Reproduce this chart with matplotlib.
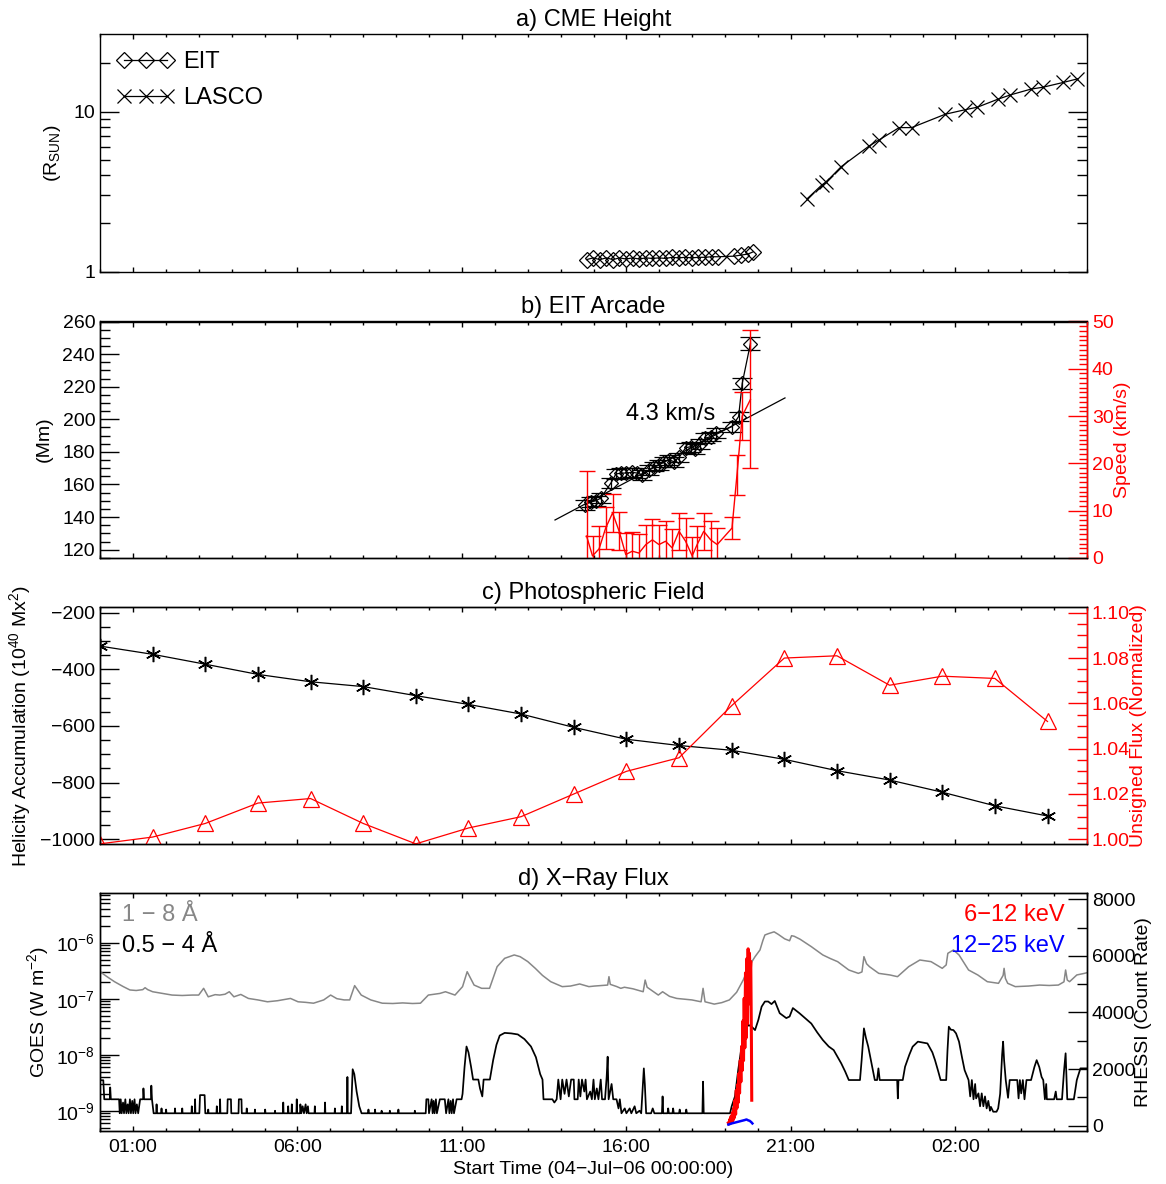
import matplotlib
matplotlib.use('Agg')
import matplotlib.pyplot as plt
import numpy as np
from matplotlib.ticker import (MultipleLocator, FixedLocator, NullFormatter,
                               FuncFormatter, FormatStrFormatter)

plt.rcParams['font.family'] = ['Liberation Sans', 'DejaVu Sans']
plt.rcParams['mathtext.default'] = 'regular'
plt.rcParams['axes.linewidth'] = 1.0

# ---------------- data (time in hours since 04-Jul-06 00:00:00) ----------------
hour_ticks = [1, 6, 11, 16, 21, 26]
hour_labels = ['01:00', '06:00', '11:00', '16:00', '21:00', '02:00']
hour_minor = [0, 2, 3, 4, 5, 7, 8, 9, 10, 12, 13, 14, 15, 17, 18, 19, 20,
              22, 23, 24, 25, 27, 28, 29, 30]

# a) CME height (R_sun)
eit_t = [14.79, 14.99, 15.19, 15.39, 15.59, 15.79, 15.99, 16.19, 16.39, 16.59,
         16.79, 16.99, 17.19, 17.39, 17.59, 17.79, 17.99, 18.19, 18.39, 18.59,
         18.79, 19.26, 19.49, 19.70, 19.85]
eit_r = [1.19, 1.22, 1.19, 1.22, 1.19, 1.22, 1.20, 1.22, 1.20, 1.22,
         1.21, 1.22, 1.21, 1.23, 1.22, 1.23, 1.22, 1.23, 1.23, 1.24,
         1.24, 1.25, 1.27, 1.29, 1.33]
lasco_t = [21.49, 21.94, 22.08, 22.53, 23.38, 23.68, 24.29, 24.67, 25.69,
           26.28, 26.67, 27.29, 27.67, 28.29, 28.67, 29.28, 29.71]
lasco_r = [2.85, 3.48, 3.65, 4.53, 6.10, 6.65, 7.94, 7.94, 9.62,
           10.25, 10.65, 11.94, 12.70, 13.80, 14.20, 15.20, 16.00]

# b) EIT arcade height (Mm) and speed (km/s)
arc_t = [14.75, 14.92, 15.07, 15.22, 15.53, 15.68, 15.83, 15.98, 16.18, 16.33,
         16.48, 16.69, 16.84, 16.99, 17.14, 17.29, 17.44, 17.60, 17.80, 17.95,
         18.10, 18.25, 18.40, 18.56, 18.71, 19.21, 19.41, 19.52, 19.77]
arc_h = [147.6, 149.3, 150.0, 151.6, 160.9, 166.4, 167.0, 167.0, 167.4, 167.0,
         166.0, 169.0, 171.0, 172.0, 174.0, 175.2, 174.0, 176.6, 182.5, 183.2,
         182.0, 185.0, 188.4, 189.4, 191.4, 195.5, 201.7, 222.0, 246.5]
arc_err = [3.0] * 27 + [3.5, 4.0]
fit_t = [13.83, 20.82]
fit_h = [138.2, 213.1]
spd_t = [14.79, 14.97, 15.17, 15.37, 15.58, 15.78, 15.98, 16.18, 16.38, 16.59,
         16.79, 16.99, 17.19, 17.39, 17.60, 17.80, 18.00, 18.15, 18.35, 18.56,
         18.76, 19.21, 19.36, 19.52, 19.77]
spd_v = [4.6, 0.4, 1.9, 6.3, 9.5, 5.6, 0.7, 1.4, 1.0, 2.8,
         3.8, 2.8, 3.5, 2.1, 5.6, 3.5, 0.4, 2.8, 5.6, 3.8,
         2.8, 6.3, 17.5, 30.0, 33.5]
spd_err = [13.7, 4.2, 4.8, 4.5, 4.0, 4.0, 4.5, 4.0, 4.0, 4.2,
           4.5, 4.2, 4.2, 4.0, 3.9, 4.9, 4.0, 4.0, 3.9, 4.0,
           3.5, 2.3, 4.2, 5.0, 14.6]

# c) photospheric field
mdi_t = [0.0, 1.6, 3.2, 4.8, 6.4, 8.0, 9.6, 11.2, 12.8, 14.4,
         16.0, 17.6, 19.2, 20.8, 22.4, 24.0, 25.6, 27.2, 28.8]
helicity = [-318, -347, -382, -418, -444, -461, -493, -524, -558, -605,
            -647, -669, -686, -718, -758, -791, -834, -882, -918]
uflux = [0.998, 1.001, 1.007, 1.016, 1.018, 1.007, 0.998, 1.005, 1.010, 1.020,
         1.030, 1.036, 1.059, 1.080, 1.081, 1.068, 1.072, 1.071, 1.052]

# d) GOES 1-8 A (units 1e-9 W m^-2)
goes_long_t = [0.00, 0.20, 0.44, 0.70, 0.91, 1.10, 1.30, 1.37, 1.45, 1.60,
               1.90, 2.19, 2.50, 2.80, 3.00, 3.15, 3.29, 3.50, 3.64, 3.80,
               3.93, 4.07, 4.28, 4.51, 4.80, 5.09, 5.40, 5.79, 6.02, 6.25,
               6.49, 6.80, 7.01, 7.20, 7.42, 7.59, 7.74, 7.94, 8.23, 8.58,
               8.90, 9.20, 9.50, 9.74, 9.98, 10.15, 10.33, 10.50, 10.79, 11.02,
               11.16, 11.37, 11.60, 11.84, 12.07, 12.30, 12.59, 12.77, 13.00, 13.23,
               13.45, 13.70, 14.05, 14.30, 14.58, 14.86, 15.03, 15.25, 15.43, 15.47,
               15.51, 15.70, 15.83, 15.94, 16.20, 16.51, 16.57, 16.63, 16.97, 17.10,
               17.31, 17.53, 17.75, 17.99, 18.27, 18.33, 18.39, 18.67, 18.90, 19.13,
               19.35, 19.55, 19.75, 19.91, 20.06, 20.15, 20.21, 20.32, 20.49, 20.62,
               20.81, 20.96, 21.02, 21.10, 21.28, 21.62, 21.97, 22.20, 22.42, 22.76,
               23.05, 23.16, 23.22, 23.30, 23.39, 23.67, 24.01, 24.24, 24.58, 24.92,
               25.26, 25.60, 25.72, 25.77, 25.94, 26.11, 26.40, 26.68, 26.97, 27.31,
               27.45, 27.48, 27.52, 27.59, 27.82, 28.22, 28.56, 28.85, 29.13, 29.30,
               29.35, 29.40, 29.47, 29.69, 29.92, 30.00]
goes_long = [303, 250, 201, 165, 143, 140, 145, 157, 145, 133,
             124, 116, 114, 116, 116, 153, 108, 118, 116, 120,
             133, 108, 119, 101, 95, 88, 92, 101, 88, 86,
             83, 95, 116, 100, 95, 95, 171, 116, 95, 83,
             82, 84, 82, 83, 116, 120, 124, 133, 116, 164,
             303, 175, 153, 153, 372, 525, 603, 562, 460, 348,
             260, 201, 164, 168, 183, 164, 168, 172, 175, 247,
             180, 165, 153, 160, 150, 133, 215, 160, 116, 133,
             110, 101, 98, 95, 88, 153, 88, 80, 85, 95,
             130, 215, 400, 562, 740, 1100, 1370, 1450, 1560, 1400,
             1170, 1080, 1330, 1300, 1150, 849, 603, 520, 458, 325,
             283, 300, 562, 420, 372, 283, 265, 247, 372, 490,
             458, 348, 400, 645, 740, 603, 325, 265, 201, 188,
             260, 348, 230, 188, 164, 168, 175, 172, 175, 200,
             325, 215, 201, 265, 283, 291]

# d) GOES 0.5-4 A (units 1e-9 W m^-2)
goes_short_t = [0.00, 0.10, 0.13, 0.30, 0.31, 0.33, 0.58, 0.60, 0.63, 0.66,
                0.70, 0.73, 0.77, 0.80, 0.84, 0.87, 0.91, 0.94, 0.98, 1.01,
                1.05, 1.08, 1.12, 1.16, 1.22, 1.31, 1.32, 1.34, 1.55, 1.56,
                1.58, 1.63, 1.71, 1.72, 1.73, 1.86, 1.87, 1.88, 2.00, 2.01,
                2.02, 2.27, 2.28, 2.29, 2.49, 2.50, 2.51, 2.78, 2.79, 2.80,
                2.88, 2.89, 2.90, 3.02, 3.04, 3.18, 3.20, 3.28, 3.29, 3.30,
                3.54, 3.55, 3.56, 3.64, 3.65, 3.66, 3.87, 3.88, 3.98, 3.99,
                4.21, 4.22, 4.30, 4.31, 4.45, 4.46, 4.47, 4.70, 4.71, 4.72,
                5.01, 5.02, 5.03, 5.31, 5.32, 5.33, 5.56, 5.57, 5.58, 5.71,
                5.72, 5.73, 5.82, 5.83, 5.84, 5.97, 5.98, 5.99, 6.08, 6.09,
                6.12, 6.16, 6.20, 6.25, 6.28, 6.32, 6.34, 6.52, 6.53, 6.54,
                6.83, 6.84, 6.85, 7.13, 7.14, 7.15, 7.34, 7.35, 7.36, 7.51,
                7.52, 7.53, 7.63, 7.68, 7.73, 7.80, 7.88, 7.95, 8.15, 8.16,
                8.17, 8.35, 8.36, 8.37, 8.55, 8.56, 8.57, 8.80, 8.81, 8.82,
                9.06, 9.07, 9.08, 9.56, 9.57, 9.58, 9.90, 9.92, 9.98, 10.00,
                10.08, 10.11, 10.14, 10.17, 10.21, 10.24, 10.33, 10.48, 10.52, 10.59,
                10.62, 10.66, 10.69, 10.73, 10.76, 10.80, 10.84, 10.99, 11.02, 11.08,
                11.14, 11.20, 11.28, 11.34, 11.50, 11.55, 11.62, 11.66, 11.85, 11.95,
                12.05, 12.15, 12.30, 12.50, 12.70, 12.90, 13.10, 13.25, 13.38, 13.45,
                13.48, 13.75, 13.81, 13.88, 13.93, 14.00, 14.05, 14.12, 14.18, 14.25,
                14.32, 14.40, 14.42, 14.52, 14.55, 14.60, 14.65, 14.72, 14.76, 14.80,
                14.90, 14.95, 15.00, 15.04, 15.10, 15.15, 15.22, 15.26, 15.35, 15.40,
                15.43, 15.46, 15.55, 15.60, 15.70, 15.76, 15.80, 15.85, 15.95, 16.00,
                16.10, 16.15, 16.25, 16.30, 16.40, 16.45, 16.50, 16.53, 16.56, 16.60,
                16.75, 16.80, 16.85, 17.08, 17.10, 17.12, 17.25, 17.27, 17.29, 17.40,
                17.42, 17.44, 17.60, 17.62, 17.64, 17.80, 17.82, 17.84, 18.31, 18.33,
                18.35, 19.15, 19.20, 19.30, 19.40, 19.50, 19.60, 19.71, 19.81, 19.91,
                20.01, 20.11, 20.21, 20.31, 20.41, 20.51, 20.66, 20.86, 20.96, 21.06,
                21.26, 21.62, 21.80, 21.97, 22.15, 22.30, 22.53, 22.65, 22.76, 23.10,
                23.15, 23.22, 23.28, 23.35, 23.45, 23.55, 23.62, 23.66, 23.70, 24.23,
                24.25, 24.27, 24.40, 24.47, 24.60, 24.70, 24.86, 25.00, 25.15, 25.30,
                25.38, 25.48, 25.55, 25.72, 25.76, 25.80, 25.86, 25.94, 26.02, 26.11,
                26.20, 26.28, 26.40, 26.45, 26.50, 26.55, 26.60, 26.63, 26.70, 26.75,
                26.80, 26.85, 26.90, 26.95, 27.00, 27.05, 27.08, 27.15, 27.25, 27.30,
                27.36, 27.42, 27.45, 27.48, 27.53, 27.60, 27.65, 27.88, 27.92, 27.96,
                28.00, 28.05, 28.10, 28.16, 28.30, 28.40, 28.47, 28.55, 28.62, 28.67,
                28.72, 28.76, 28.78, 29.00, 29.05, 29.08, 29.24, 29.30, 29.35, 29.40,
                29.60, 29.69, 29.80, 30.00]
goes_short = [3.5, 3.5, 1.6, 1.6, 2.6, 1.6, 1.6, 0.9, 1.6, 0.9,
              1.4, 0.9, 1.6, 0.9, 1.3, 0.9, 1.6, 0.9, 1.5, 0.9,
              1.6, 0.9, 1.3, 0.9, 1.6, 1.6, 2.5, 1.6, 1.6, 2.8,
              1.6, 0.9, 0.9, 1.3, 0.9, 0.9, 1.1, 0.9, 0.9, 1.05,
              0.9, 0.9, 1.1, 0.9, 0.9, 1.1, 0.9, 0.9, 1.2, 0.9,
              0.9, 1.6, 0.9, 0.9, 1.9, 1.9, 0.9, 0.9, 1.05, 0.9,
              0.9, 1.2, 0.9, 0.9, 1.6, 0.9, 0.9, 1.6, 1.6, 0.9,
              0.9, 1.6, 1.6, 0.9, 0.9, 1.1, 0.9, 0.9, 1.05, 0.9,
              0.9, 1.05, 0.9, 0.9, 1.0, 0.9, 0.9, 1.4, 0.9, 0.9,
              1.2, 0.9, 0.9, 1.3, 0.9, 0.9, 1.6, 0.9, 0.9, 1.3,
              0.9, 1.2, 0.9, 1.3, 0.9, 1.2, 0.9, 0.9, 1.2, 0.9,
              0.9, 1.4, 0.9, 0.9, 1.1, 0.9, 0.9, 1.2, 0.9, 0.9,
              4.0, 0.9, 0.9, 5.5, 4.5, 2.2, 1.2, 0.9, 0.9, 1.05,
              0.9, 0.9, 1.05, 0.9, 0.9, 1.0, 0.9, 0.9, 1.0, 0.9,
              0.9, 1.05, 0.9, 0.9, 1.0, 0.9, 0.9, 1.6, 1.6, 0.9,
              1.6, 0.9, 1.5, 0.9, 1.6, 0.9, 1.6, 1.6, 0.9, 1.6,
              0.9, 1.5, 0.9, 1.6, 0.9, 1.2, 1.6, 1.6, 2.0, 6.0,
              14.0, 11.0, 6.0, 3.6, 3.6, 2.5, 1.8, 3.6, 3.6, 8.0,
              15.0, 22.0, 24.5, 24.0, 23.0, 19.0, 14.0, 9.0, 4.5, 3.6,
              1.6, 1.6, 1.4, 1.6, 3.6, 1.6, 3.6, 2.0, 3.6, 1.8,
              3.6, 3.6, 1.6, 1.6, 3.6, 1.8, 3.6, 2.2, 3.6, 1.6,
              2.2, 1.6, 3.6, 1.6, 2.5, 1.6, 3.6, 1.6, 1.6, 4.0,
              9.2, 1.6, 3.0, 1.6, 1.6, 1.1, 1.6, 0.9, 1.1, 0.9,
              1.1, 0.9, 1.2, 0.9, 1.0, 0.9, 3.0, 5.7, 3.0, 0.9,
              0.9, 1.1, 0.9, 0.9, 1.8, 0.9, 0.9, 1.1, 0.9, 0.9,
              1.1, 0.9, 0.9, 1.05, 0.9, 0.9, 1.05, 0.9, 0.9, 3.3,
              0.9, 0.9, 1.2, 1.8, 5.4, 13.8, 27.5, 34.0, 31.6, 27.5,
              41.7, 72.0, 89.0, 89.0, 80.0, 91.0, 55.0, 45.0, 48.0, 68.0,
              55.0, 36.0, 25.0, 18.3, 14.0, 12.1, 7.0, 5.0, 3.53, 3.53,
              8.0, 29.5, 20.0, 14.0, 7.0, 3.53, 3.53, 5.7, 3.53, 3.53,
              1.66, 3.53, 3.53, 6.1, 10.0, 13.9, 17.1, 16.5, 15.9, 11.0,
              8.0, 5.0, 3.53, 3.53, 12.0, 31.6, 28.0, 27.5, 24.0, 17.1,
              9.0, 5.3, 3.53, 1.8, 3.53, 1.6, 3.0, 1.66, 2.04, 1.2,
              2.04, 1.2, 1.8, 1.1, 1.5, 1.0, 1.17, 0.96, 0.96, 1.1,
              2.0, 10.0, 17.1, 8.0, 3.53, 1.7, 3.53, 3.53, 1.66, 3.53,
              2.04, 3.53, 1.6, 3.53, 3.53, 6.0, 8.0, 6.0, 4.0, 3.53,
              1.6, 3.0, 1.6, 1.6, 2.2, 1.6, 1.6, 5.0, 10.6, 1.6,
              1.6, 3.53, 5.7, 5.7]

# d) RHESSI count rates
hxr_lo_t = [19.10, 19.12, 19.14, 19.16, 19.18, 19.20, 19.22, 19.24, 19.26, 19.28,
            19.30, 19.32, 19.34, 19.36, 19.38, 19.40, 19.42, 19.44, 19.46, 19.48,
            19.50, 19.52, 19.54, 19.56, 19.58, 19.60, 19.62, 19.64, 19.66, 19.68,
            19.70, 19.72, 19.74, 19.76, 19.78, 19.80, 19.81]
hxr_lo = [100, 60, 220, 80, 330, 110, 460, 190, 620, 280,
          900, 400, 1250, 620, 1450, 820, 1850, 1150, 2300, 1550,
          2800, 1950, 3700, 2300, 4500, 2750, 5400, 3100, 5900, 3600,
          6250, 4300, 6100, 5300, 5800, 3000, 900]
hxr_hi_t = [19.10, 19.20, 19.30, 19.40, 19.50, 19.60, 19.65, 19.70, 19.75, 19.80, 19.83]
hxr_hi = [40, 80, 110, 140, 170, 200, 220, 190, 170, 120, 80]

goes_major = [1e-9, 1e-8, 1e-7, 1e-6]
goes_minor = [5e-10, 6e-10, 7e-10, 8e-10, 9e-10,
              2e-9, 3e-9, 4e-9, 5e-9, 6e-9, 7e-9, 8e-9, 9e-9,
              2e-8, 3e-8, 4e-8, 5e-8, 6e-8, 7e-8, 8e-8, 9e-8,
              2e-7, 3e-7, 4e-7, 5e-7, 6e-7, 7e-7, 8e-7, 9e-7,
              2e-6, 3e-6, 4e-6, 5e-6, 6e-6, 7e-6]
goes_labels = ['10$^{-9}$', '10$^{-8}$', '10$^{-7}$', '10$^{-6}$']

# ---------------- figure ----------------
fig = plt.figure(figsize=(11.66, 11.84), dpi=100)
L, W = 100 / 1166, 987 / 1166


def rect(top, bot):
    return [L, 1 - bot / 1184, W, (bot - top) / 1184]


axa = fig.add_axes(rect(34, 271.7))
axb = fig.add_axes(rect(321.5, 557.8))
axc = fig.add_axes(rect(607.3, 844.3))
axd = fig.add_axes(rect(893.3, 1130.7))

TFS = 17
LFS = 14
KFS = 14


def style_x(ax, labels=False):
    ax.set_xlim(0, 30)
    ax.xaxis.set_major_locator(FixedLocator(hour_ticks))
    ax.xaxis.set_minor_locator(FixedLocator(hour_minor))
    ax.tick_params(axis='x', which='major', direction='in', length=3.6, width=1,
                   top=True, bottom=True, labelsize=KFS, pad=6)
    ax.tick_params(axis='x', which='minor', direction='in', length=2.0, width=1,
                   top=True, bottom=True)
    if labels:
        ax.set_xticklabels(hour_labels)
    else:
        ax.tick_params(axis='x', labelbottom=False)


def style_y(ax, color='k'):
    ax.tick_params(axis='y', which='major', direction='in', length=14, width=1,
                   labelsize=KFS, pad=3.5, colors=color)
    ax.tick_params(axis='y', which='minor', direction='in', length=7, width=1,
                   colors=color)


# ---- a) CME height ----
axa.plot(eit_t, eit_r, color='k', lw=0.9, marker='D', ms=8.5, mfc='none', mec='k',
         mew=0.9, label='EIT')
axa.plot(lasco_t, lasco_r, color='k', lw=0.9, marker='x', ms=10, mew=0.9, label='LASCO')
axa.set_yscale('log')
axa.set_ylim(1, 30.5)
axa.yaxis.set_major_locator(FixedLocator([1, 10]))
axa.yaxis.set_major_formatter(FuncFormatter(lambda v, p: '%g' % v))
axa.yaxis.set_minor_locator(FixedLocator([2, 3, 4, 5, 6, 7, 8, 9, 20]))
axa.yaxis.set_minor_formatter(NullFormatter())
style_x(axa)
style_y(axa)
axa.tick_params(axis='y', which='both', right=True, left=True)
axa.set_title('a) CME Height', fontsize=TFS, pad=6)
axa.set_ylabel('(R$_{SUN}$)', fontsize=LFS)
axa.yaxis.set_label_coords(-0.0375, 0.5)
axa.legend(loc='upper left', frameon=False, numpoints=3, fontsize=TFS,
           handlelength=2.4, handletextpad=0.4, labelspacing=0.6,
           borderaxespad=0.43, borderpad=0.3)

# ---- b) EIT arcade ----
axb.errorbar(arc_t, arc_h, yerr=arc_err, color='k', lw=0.9, marker='D', ms=7,
             mfc='none', mec='k', mew=0.9, ecolor='k', elinewidth=0.9,
             capsize=7, capthick=0.9)
axb.plot(fit_t, fit_h, color='k', lw=0.9)
axb.text(16.0, 203, '4.3 km/s', fontsize=TFS, ha='left', va='center')
axb.set_ylim(115, 260)
axb.yaxis.set_major_locator(MultipleLocator(20))
axb.yaxis.set_minor_locator(MultipleLocator(5))
style_x(axb)
style_y(axb)
axb.set_title('b) EIT Arcade', fontsize=TFS, pad=6)
axb.set_ylabel('(Mm)', fontsize=LFS)
axb.yaxis.set_label_coords(-0.0476, 0.5)
bb = axb.twinx()
bb.errorbar(spd_t, spd_v, yerr=spd_err, color='r', lw=1.0, ecolor='r',
            elinewidth=1.0, capsize=6, capthick=1.0)
bb.set_ylim(0, 50)
bb.yaxis.set_major_locator(MultipleLocator(10))
bb.yaxis.set_minor_locator(MultipleLocator(1))
style_y(bb, color='r')
bb.tick_params(axis='y', which='minor', length=6)
bb.spines['right'].set_color('r')
bb.set_ylabel('Speed (km/s)', fontsize=LFS, color='r')
bb.yaxis.set_label_coords(1.0274, 0.5)

# ---- c) photospheric field ----
axc.plot(mdi_t, helicity, color='k', lw=0.9, marker=(6, 2, 0), ms=11, mew=1.1)
axc.set_ylim(-1018, -181)
axc.yaxis.set_major_locator(MultipleLocator(200))
axc.yaxis.set_minor_locator(MultipleLocator(50))
style_x(axc)
style_y(axc)
axc.set_title('c) Photospheric Field', fontsize=TFS, pad=6)
axc.set_ylabel('Helicity Accumulation (10$^{40}$ Mx$^{2}$)', fontsize=LFS)
axc.yaxis.set_label_coords(-0.0679, 0.5)
cc = axc.twinx()
cc.plot(mdi_t, uflux, color='r', lw=0.9, marker='^', ms=11, mfc='none', mec='r', mew=0.9)
cc.set_ylim(0.9978, 1.1024)
cc.yaxis.set_major_locator(MultipleLocator(0.02))
cc.yaxis.set_minor_locator(MultipleLocator(0.005))
cc.yaxis.set_major_formatter(FormatStrFormatter('%.2f'))
style_y(cc, color='r')
cc.spines['right'].set_color('r')
cc.set_ylabel('Unsigned Flux (Normalized)', fontsize=LFS, color='r')
cc.yaxis.set_label_coords(1.0436, 0.5)

# ---- d) X-ray flux ----
axd.plot(goes_long_t, np.array(goes_long) * 1e-9, color='#878787', lw=1.1)
axd.plot(goes_short_t, np.array(goes_short) * 1e-9, color='k', lw=1.25)
axd.set_yscale('log')
axd.set_ylim(4.4e-10, 7.6e-6)
axd.yaxis.set_major_locator(FixedLocator(goes_major))
axd.yaxis.set_major_formatter(FuncFormatter(lambda v, p: goes_labels[p] if p is not None and p < len(goes_labels) else ''))
axd.set_yticks(goes_major)
axd.set_yticklabels(goes_labels)
axd.yaxis.set_minor_locator(FixedLocator(goes_minor))
axd.yaxis.set_minor_formatter(NullFormatter())
style_x(axd, labels=True)
style_y(axd)
axd.set_title('d) X\u2212Ray Flux', fontsize=TFS, pad=6)
axd.set_ylabel('GOES (W m$^{-2}$)', fontsize=LFS)
axd.yaxis.set_label_coords(-0.0496, 0.5)
axd.set_xlabel('Start Time (04\u2212Jul\u221206 00:00:00)', fontsize=LFS, labelpad=3.5)
axd.text(0.0223, 0.909, '1 \u2212 8 \u00c5', color='#878787', fontsize=TFS,
         transform=axd.transAxes, ha='left', va='center')
axd.text(0.0223, 0.778, '0.5 \u2212 4 \u00c5', color='k', fontsize=TFS,
         transform=axd.transAxes, ha='left', va='center')
dd = axd.twinx()
dd.plot(hxr_lo_t, hxr_lo, color='r', lw=2.2)
dd.plot(hxr_hi_t, hxr_hi, color='b', lw=1.8)
dd.set_ylim(-177, 8212)
dd.yaxis.set_major_locator(MultipleLocator(2000))
dd.yaxis.set_minor_locator(MultipleLocator(1000))
style_y(dd)
dd.set_ylabel('RHESSI (Count Rate)', fontsize=LFS)
dd.yaxis.set_label_coords(1.0486, 0.5)
dd.text(0.9777, 0.909, '6\u221212 keV', color='r', fontsize=TFS,
        transform=dd.transAxes, ha='right', va='center')
dd.text(0.9777, 0.778, '12\u221225 keV', color='b', fontsize=TFS,
        transform=dd.transAxes, ha='right', va='center')

fig.savefig('out.png', dpi=100)
